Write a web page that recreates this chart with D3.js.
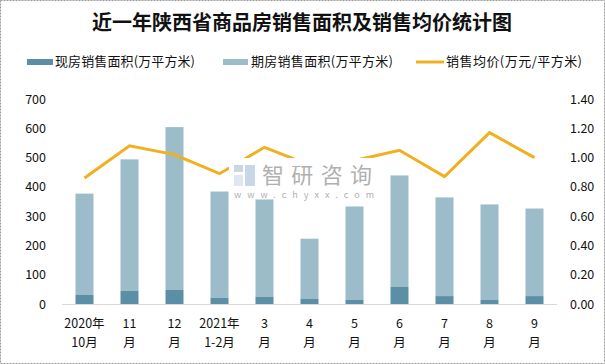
<!DOCTYPE html>
<html><head><meta charset="utf-8">
<script src="https://cdn.jsdelivr.net/npm/d3@7"></script>
<style>body{margin:0;background:#fff}svg{display:block}</style>
</head><body><svg id="c" width="605" height="364"></svg>
<script>
const categories = [["2020年","10月"],["11","月"],["12","月"],["2021年","1-2月"],["3","月"],["4","月"],["5","月"],["6","月"],["7","月"],["8","月"],["9","月"]];
const xianfang = [31,45,48,21,24,17,14,58,27,14,27];
const qifang = [346,449,556,363,333,206,319,381,337,326,299];
const price = [0.86,1.08,1.02,0.89,1.07,0.95,0.98,1.05,0.87,1.17,1.00];
const leftTicks = [0,100,200,300,400,500,600,700];
const rightTicks = [0,0.2,0.4,0.6,0.8,1.0,1.2,1.4];

const svg = d3.select("#c");
const font = "'Noto Sans CJK SC', 'Noto Sans', sans-serif";
svg.append("rect").attr("x",0.5).attr("y",0.5).attr("width",604).attr("height",363)
  .attr("fill","#fff").attr("stroke","#999").attr("stroke-dasharray","2,1");

const L=62,R=557,T=99,B=304;
const x = d3.scaleBand().domain(d3.range(categories.length)).range([L,R]).paddingInner(0.6).paddingOuter(0.3);
const yL = d3.scaleLinear().domain([0,700]).range([B,T]);
const yR = d3.scaleLinear().domain([0,1.4]).range([B,T]);

svg.append("text").attr("x",302).attr("y",30).attr("text-anchor","middle")
  .attr("font-family",font).attr("font-weight","bold").attr("font-size",20).attr("fill","#111")
  .text("近一年陕西省商品房销售面积及销售均价统计图");

// legend
const lg = svg.append("g").attr("font-family",font).attr("font-size",13).attr("fill","#111");
lg.append("rect").attr("x",27).attr("y",59).attr("width",26).attr("height",6).attr("fill","#5b8fa5");
lg.append("text").attr("x",55).attr("y",66).attr("textLength",140).text("现房销售面积(万平方米)");
lg.append("rect").attr("x",223).attr("y",59).attr("width",25).attr("height",6).attr("fill","#9dbcc9");
lg.append("text").attr("x",251).attr("y",66).attr("textLength",142).text("期房销售面积(万平方米)");
lg.append("line").attr("x1",416).attr("x2",444).attr("y1",62).attr("y2",62).attr("stroke","#f0b020").attr("stroke-width",3);
lg.append("text").attr("x",446).attr("y",66).attr("textLength",136).text("销售均价(万元/平方米)");

// axes labels
const ax = svg.append("g").attr("font-family",font).attr("font-size",12.5).attr("fill","#111");
leftTicks.forEach(t=>{
  ax.append("text").attr("x",46).attr("y",yL(t)+4.5).attr("text-anchor","end").text(t);
});
rightTicks.forEach(t=>{
  ax.append("text").attr("x",570).attr("y",yR(t)+4.5).attr("text-anchor","start").text(t.toFixed(2));
});
categories.forEach((c,i)=>{
  const cx = x(i)+x.bandwidth()/2;
  ax.append("text").attr("x",cx).attr("y",328).attr("text-anchor","middle").text(c[0]);
  ax.append("text").attr("x",cx).attr("y",347).attr("text-anchor","middle").text(c[1]);
});

// bars
const g = svg.append("g");
g.selectAll(".q").data(qifang).join("rect")
  .attr("x",(d,i)=>x(i)).attr("width",x.bandwidth())
  .attr("y",(d,i)=>yL(d+xianfang[i])).attr("height",(d,i)=>yL(xianfang[i])-yL(d+xianfang[i]))
  .attr("fill","#9dbcc9");
g.selectAll(".x").data(xianfang).join("rect")
  .attr("x",(d,i)=>x(i)).attr("width",x.bandwidth())
  .attr("y",d=>yL(d)).attr("height",d=>B-yL(d))
  .attr("fill","#5b8fa5");

svg.append("line").attr("x1",L).attr("x2",R).attr("y1",B+0.5).attr("y2",B+0.5).attr("stroke","#d9d9d9");

// line
const line = d3.line().x((d,i)=>x(i)+x.bandwidth()/2).y(d=>yR(d));
svg.append("path").datum(price).attr("d",line).attr("fill","none")
  .attr("stroke","#f0b020").attr("stroke-width",3).attr("stroke-linejoin","miter");

// watermark (opaque backdrop as in reference)
const wm = svg.append("g");
wm.append("rect").attr("x",229).attr("y",158).attr("width",151).attr("height",41).attr("fill","#fff");
wm.append("rect").attr("x",234).attr("y",165).attr("width",9).attr("height",7).attr("fill","#c9d6e6");
wm.append("rect").attr("x",245).attr("y",165).attr("width",10).attr("height",21).attr("fill","#c9d6e6");
wm.append("rect").attr("x",234).attr("y",175).attr("width",9).attr("height",11).attr("fill","#dfe7f0");
wm.append("text").attr("x",262).attr("y",183).attr("font-family",font).attr("font-size",22).attr("fill","#b0b0b0")
  .attr("textLength",110).text("智研咨询");
wm.append("text").attr("x",234).attr("y",198).attr("font-family",font).attr("font-size",9).attr("fill","#b0b0b0")
  .attr("textLength",140).text("www.chyxx.com");
</script></body></html>
